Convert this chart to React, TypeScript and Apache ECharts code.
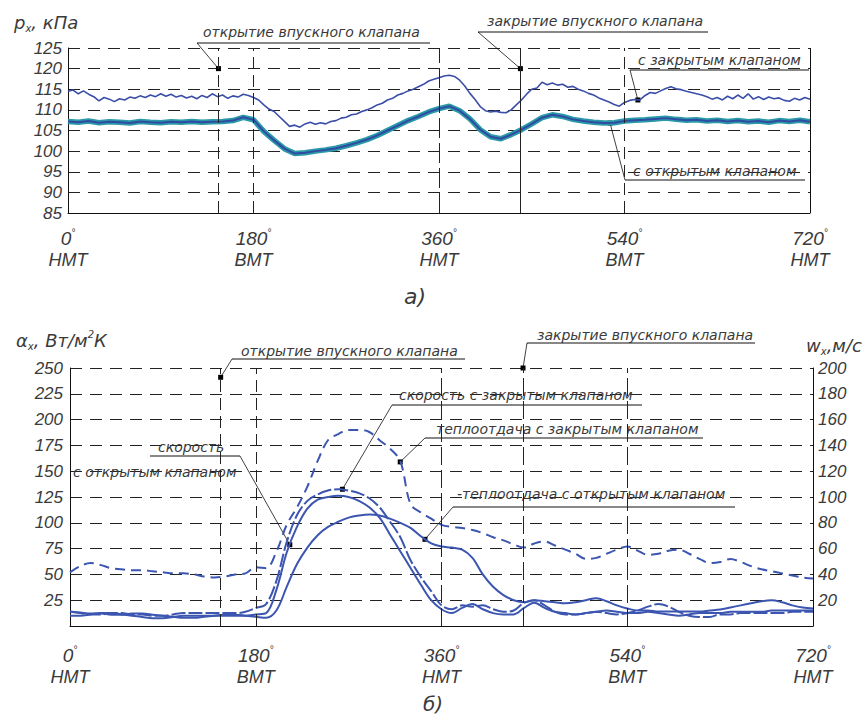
import React, { useEffect, useRef } from "react";
import * as echarts from "echarts";

// ---------- data ----------
const anglesTop = Array.from({ length: 145 }, (_, i) => i * 5);
const angles10 = Array.from({ length: 73 }, (_, i) => i * 10);

// p_x, kPa – intake closed (thin line), sampled every 5°
const pClosed = [
  114.5, 114.8, 113.9, 114.6, 113.8, 113.2, 112.2, 113.0, 112.6, 112.0,
  112.7, 112.4, 113.1, 112.8, 113.4, 113.0, 113.6, 113.2, 113.9, 113.3,
  113.8, 113.1, 113.5, 112.9, 113.3, 112.7, 113.5, 113.0, 113.9, 113.2,
  113.6, 112.8, 113.4, 113.1, 113.8, 113.5, 113.0, 112.4, 111.2, 110.2,
  109.6, 108.4, 107.2, 106.0, 106.3, 105.8, 106.6, 107.0, 106.5, 106.9,
  106.6, 107.2, 107.4, 108.0, 108.2, 108.8, 109.0, 109.6, 110.0, 110.5,
  111.2, 111.6, 112.4, 112.8, 113.6, 114.0, 114.6, 115.0, 115.6, 116.2,
  117.0, 117.4, 117.8, 118.2, 118.4, 118.1, 117.2, 115.8, 114.0, 112.5,
  110.8, 109.8, 109.5, 109.7, 109.4, 109.3, 110.0, 111.2, 112.4, 113.8,
  115.0, 115.3, 116.7, 116.1, 116.5, 116.0, 116.2, 115.5, 115.7, 115.0,
  114.6, 114.0, 113.6, 112.9, 112.4, 111.9, 111.3, 110.9, 111.8, 112.3,
  112.5, 112.4, 113.5, 114.2, 114.0, 114.6, 115.2, 115.6, 115.1, 114.9,
  114.5, 114.2, 113.9, 113.6, 113.2, 112.6, 113.0, 112.4, 113.3, 112.7,
  113.6, 112.8, 113.9, 112.6, 113.2, 112.5, 113.1, 112.7, 112.9, 112.3,
  112.1, 112.8, 112.4, 113.0, 112.6,
];
// p_x, kPa – intake open (thick line), every 10°
const pOpen = [
  107.2, 107.0, 107.3, 106.9, 107.1, 107.0, 106.8, 107.2, 107.0, 106.9,
  107.1, 107.0, 107.2, 107.0, 107.1, 107.2, 107.4, 108.2, 107.6, 104.8,
  102.6, 100.6, 99.4, 99.6, 100.0, 100.3, 100.7, 101.3, 102.0, 102.8,
  103.8, 105.0, 106.2, 107.4, 108.4, 109.5, 110.3, 110.9, 109.8, 107.8,
  105.2, 103.5, 103.0, 104.0, 105.2, 106.6, 108.1, 108.8, 108.4, 107.7,
  107.3, 107.0, 106.8, 106.9, 107.3, 107.5, 107.6, 107.8, 108.0, 107.7,
  107.5, 107.6, 107.3, 107.5, 107.2, 107.4, 107.1, 107.3, 107.0, 107.4,
  107.2, 107.5, 107.1,
];
// alpha_x, W/m2K – heat transfer, closed (dashed)
const alphaClosed = [
  52, 58, 61, 59, 56, 55, 54, 54, 53, 52,
  51, 51, 50, 48, 47, 48, 50, 51, 57, 56,
  72, 98, 115, 135, 160, 180, 186, 190, 190, 188,
  180, 172, 160, 118, 110, 104, 98, 96, 95, 93,
  90, 86, 83, 79, 76, 80, 82, 78, 74, 70,
  65, 66, 70, 74, 77, 73, 69, 70, 73, 74,
  70, 65, 61, 62, 65, 62, 58, 55, 53, 51,
  49, 47, 46,
];
// alpha_x – heat transfer, open (solid)
const alphaOpen = [
  14, 13, 12, 12, 11, 11, 12, 12, 11, 10,
  9, 8, 8, 9, 10, 11, 11, 10, 9, 8,
  15, 38, 60, 76, 88, 96, 101, 105, 107, 108,
  107, 104, 100, 95, 87, 80, 77, 76, 74, 66,
  50, 38, 30, 25, 23, 25, 24, 23, 22, 23,
  25, 27, 24, 20, 17, 15, 15, 14, 14, 14,
  14, 14, 15, 16, 18, 20, 22, 24, 25, 23,
  20, 18, 17,
];
// w_x, m/s – velocity, closed (dashed)
const wClosed = [
  11, 10, 9, 9, 10, 10, 9, 9, 8, 8,
  9, 10, 10, 10, 10, 10, 10, 11, 14, 17,
  35, 65, 86, 97, 102, 105, 106, 105, 103, 99,
  92, 81, 69, 51, 38, 27, 16, 13, 16, 15,
  16, 13, 11, 12, 18, 20, 16, 11, 9, 9,
  10, 11, 10, 9, 10, 12, 15, 17, 15, 11,
  8, 7, 7, 9, 9, 10, 10, 10, 10, 10,
  11, 11, 11,
];
// w_x – velocity, open (solid)
const wOpen = [
  8, 8, 9, 10, 10, 9, 8, 7, 6, 6,
  7, 8, 8, 8, 8, 8, 8, 8, 9, 10,
  28, 57, 77, 91, 98, 100, 101, 100, 97, 92,
  84, 71, 58, 45, 32, 20, 13, 10, 14, 17,
  13, 10, 9, 9, 14, 18, 14, 11, 10, 9,
  10, 11, 12, 11, 10, 10, 11, 10, 9, 8,
  9, 10, 10, 10, 11, 11, 11, 11, 12, 12,
  12, 12, 12,
];

const xTickAngles = [0, 180, 360, 540, 720];
const xTickNames = ["НМТ", "ВМТ", "НМТ", "ВМТ", "НМТ"];
const valveAngles = [146, 180, 360, 439, 540];

const pair = (xs: number[], ys: number[]) => ys.map((y, i) => [xs[i], y]);

// ---------- styles ----------
const NUM_FONT = '"Liberation Sans", Arial, sans-serif';
const TXT_FONT = '"DejaVu Sans", sans-serif';
const TXT = "#3a3a3a";
const BLUE = "#3b55b0";

const xLabel = (margin: number) => ({
  margin,
  formatter: (v: number) => {
    const i = xTickAngles.indexOf(v);
    return `{n|${v}}{d|°}\n{t|${xTickNames[i] ?? ""}}`;
  },
  rich: {
    n: { fontSize: 19, fontFamily: NUM_FONT, fontStyle: "italic", color: TXT, lineHeight: 22 },
    d: { fontSize: 10, fontFamily: NUM_FONT, fontStyle: "italic", color: TXT, lineHeight: 22, verticalAlign: "top" },
    t: { fontSize: 18, fontFamily: NUM_FONT, fontStyle: "italic", color: TXT, lineHeight: 22 },
  },
});

const yLabel = (hideZero: boolean, margin = 6) => ({
  margin,
  fontSize: 17,
  fontFamily: NUM_FONT,
  fontStyle: "italic",
  color: TXT,
  formatter: (v: number) => (hideZero && v === 0 ? "" : String(v)),
});

const dashed = { type: [12, 8] as any, color: "#222", width: 1 };
const axisLine = { show: true, lineStyle: { color: "#111", width: 1 } };

const topValveStyles: any[] = [[12, 6], [12, 6], [20, 5], "solid", [12, 6]];
const botValveStyles: any[] = [[12, 6], [12, 6], [18, 5], [18, 5], [18, 5]];

const option: any = {
  animation: false,
  backgroundColor: "#fff",
  grid: [
    { left: 68, top: 48, width: 742, height: 165 },
    { left: 70, top: 368, width: 743, height: 258 },
  ],
  xAxis: [
    {
      gridIndex: 0, type: "value", min: 0, max: 720, interval: 180,
      axisLine, axisTick: { show: false }, splitLine: { show: false }, axisLabel: xLabel(14),
    },
    {
      gridIndex: 1, type: "value", min: 0, max: 720, interval: 180,
      axisLine, axisTick: { show: false }, splitLine: { show: false }, axisLabel: xLabel(18),
    },
  ],
  yAxis: [
    {
      gridIndex: 0, type: "value", min: 85, max: 125, interval: 5,
      axisLine, axisTick: { show: false }, splitLine: { show: true, lineStyle: dashed }, axisLabel: yLabel(false),
    },
    {
      gridIndex: 1, type: "value", min: 0, max: 250, interval: 25,
      axisLine, axisTick: { show: false }, splitLine: { show: true, lineStyle: dashed }, axisLabel: yLabel(true, 7),
    },
    {
      gridIndex: 1, type: "value", position: "right", min: 0, max: 200, interval: 20,
      axisLine, axisTick: { show: false }, splitLine: { show: false }, axisLabel: yLabel(true, 5),
    },
  ],
  series: [
    {
      name: "p closed", type: "line", xAxisIndex: 0, yAxisIndex: 0,
      data: pair(anglesTop, pClosed), showSymbol: false,
      lineStyle: { color: "#3a4ea8", width: 1.6 },
      markLine: {
        silent: true, symbol: ["none", "none"], label: { show: false },
        lineStyle: { color: "#222", width: 1 },
        data: [
          ...valveAngles.map((a, i) => ({ xAxis: a, lineStyle: { type: topValveStyles[i], color: "#222", width: 1 } })),
          { xAxis: 720, lineStyle: { type: "solid", color: "#111", width: 1 } },
        ],
      },
    },
    {
      name: "p open halo", type: "line", xAxisIndex: 0, yAxisIndex: 0,
      data: pair(angles10, pOpen), showSymbol: false,
      lineStyle: { color: "#2a9aa7", width: 5.5 },
    },
    {
      name: "p open", type: "line", xAxisIndex: 0, yAxisIndex: 0,
      data: pair(angles10, pOpen), showSymbol: false,
      lineStyle: { color: "#2f4ba3", width: 2 },
    },
    {
      name: "alpha closed", type: "line", xAxisIndex: 1, yAxisIndex: 1,
      data: pair(angles10, alphaClosed), showSymbol: false, smooth: 0.35,
      lineStyle: { color: BLUE, width: 2, type: [10, 6] },
      markLine: {
        silent: true, symbol: ["none", "none"], label: { show: false },
        lineStyle: { color: "#222", width: 1 },
        data: valveAngles.map((a, i) => ({ xAxis: a, lineStyle: { type: botValveStyles[i], color: "#222", width: 1 } })),
      },
    },
    {
      name: "alpha open", type: "line", xAxisIndex: 1, yAxisIndex: 1,
      data: pair(angles10, alphaOpen), showSymbol: false, smooth: 0.35,
      lineStyle: { color: BLUE, width: 2 },
    },
    {
      name: "w closed", type: "line", xAxisIndex: 1, yAxisIndex: 2,
      data: pair(angles10, wClosed), showSymbol: false, smooth: 0.35,
      lineStyle: { color: BLUE, width: 2, type: [14, 3] },
    },
    {
      name: "w open", type: "line", xAxisIndex: 1, yAxisIndex: 2,
      data: pair(angles10, wOpen), showSymbol: false, smooth: 0.35,
      lineStyle: { color: BLUE, width: 2 },
    },
  ],
};

// annotations: text (left, middle y), underline [x1, x2, y], leader start, dot (series, data point)
const notes: any[] = [
  { text: "открытие впускного клапана", x: 203, y: 32, ul: [197, 430, 43], from: [197, 43], s: 0, pt: [146, 120] },
  { text: "закрытие впускного клапана", x: 487, y: 21, ul: [478, 708, 32], from: [478, 32], s: 0, pt: [439, 120] },
  { text: "с закрытым клапаном", x: 638, y: 60, ul: [630, 809, 70], from: [630, 70], s: 0, pt: [553, 112.4] },
  { text: "с открытым клапаном", x: 633, y: 171, ul: [625, 805, 180], from: [625, 180], s: 2, pt: [526, 106.8] },
  { text: "открытие впускного клапана", x: 241, y: 351, ul: [232, 465, 359], from: [232, 359], s: 3, pt: [146, 241] },
  { text: "закрытие впускного клапана", x: 537, y: 335, ul: [527, 755, 343], from: [527, 343], s: 3, pt: [439, 250] },
  { text: "скорость с закрытым клапаном", x: 399, y: 395, ul: [392, 642, 405], from: [392, 405], s: 5, pt: [264, 106] },
  { text: "теплоотдача с закрытым клапаном", x: 436, y: 429, ul: [425, 703, 438], from: [425, 438], s: 3, pt: [320, 159] },
  { text: "скорость", x: 158, y: 447, ul: [150, 240, 456], from: [240, 456], s: 6, pt: [213, 63] },
  { text: "с открытым клапаном", x: 73, y: 472 },
  { text: "-теплоотдача с открытым клапаном", x: 457, y: 494, ul: [453, 735, 507], from: [453, 507], s: 4, pt: [344, 84] },
];

const txt = (text: string, x: number, y: number, size = 14, extra: any = {}) => ({
  type: "text", x, y, silent: true,
  style: {
    text, fontSize: size, fontFamily: TXT_FONT, fontStyle: "italic", fill: TXT,
    verticalAlign: "middle", align: "left", ...extra,
  },
});

const richTitle = (text: string, x: number, y: number) => ({
  type: "text", x, y, silent: true,
  style: {
    text, verticalAlign: "middle", align: "left", fill: TXT,
    rich: {
      a: { fontSize: 18, fontFamily: TXT_FONT, fontStyle: "italic", fill: TXT, color: TXT, lineHeight: 22 },
      s: { fontSize: 10, fontFamily: TXT_FONT, fontStyle: "italic", fill: TXT, color: TXT, lineHeight: 22, verticalAlign: "bottom" },
      p: { fontSize: 10, fontFamily: TXT_FONT, fontStyle: "italic", fill: TXT, color: TXT, lineHeight: 22, verticalAlign: "top" },
    },
  },
});

export default function App() {
  const ref = useRef<HTMLDivElement>(null);
  useEffect(() => {
    const chart = echarts.init(ref.current!, null, { renderer: "svg" });
    chart.setOption(option);
    const els: any[] = [];
    for (const n of notes) {
      els.push(txt(n.text, n.x, n.y, 14));
      if (n.ul) {
        els.push({ type: "line", silent: true, shape: { x1: n.ul[0], y1: n.ul[2], x2: n.ul[1], y2: n.ul[2] }, style: { stroke: "#111", lineWidth: 1 } });
      }
      if (n.pt) {
        const p = chart.convertToPixel({ seriesIndex: n.s }, n.pt) as number[];
        els.push({ type: "line", silent: true, shape: { x1: n.from[0], y1: n.from[1], x2: p[0], y2: p[1] }, style: { stroke: "#111", lineWidth: 0.8 } });
        els.push({ type: "rect", silent: true, shape: { x: p[0] - 2.5, y: p[1] - 2.5, width: 5, height: 5 }, style: { fill: "#000" } });
      }
    }
    els.push(richTitle("{a|p}{s|x}{a|, кПа}", 14, 22));
    els.push(richTitle("{a|α}{s|x}{a|, Вт/м}{p|2}{a|К}", 16, 340));
    els.push(richTitle("{a|w}{s|x}{a|,м/с}", 806, 345));
    els.push(txt("а)", 404, 296, 22));
    els.push(txt("б)", 423, 704, 20));
    chart.setOption({ graphic: els });
    return () => chart.dispose();
  }, []);
  return (
    <div
      ref={ref}
      style={{ position: "fixed", left: 0, top: 0, width: 863, height: 719, background: "#fff" }}
    />
  );
}
